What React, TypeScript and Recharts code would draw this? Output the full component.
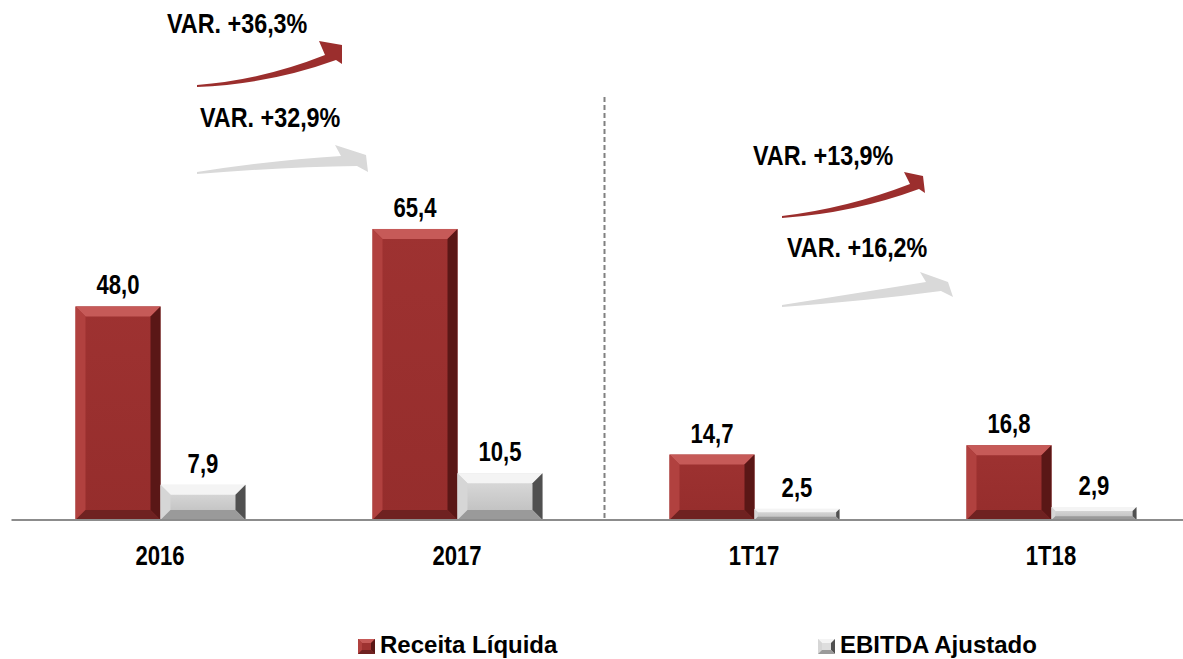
import { BarChart, Bar, XAxis, YAxis, LabelList, Legend } from "recharts";

const categories = ["2016", "2017", "1T17", "1T18"];
const receitaLiquida = [48.0, 65.4, 14.7, 16.8];
const ebitdaAjustado = [7.9, 10.5, 2.5, 2.9];
const seriesNames = ["Receita Líquida", "EBITDA Ajustado"];
const variationLabels = ["VAR. +36,3%", "VAR. +32,9%", "VAR. +13,9%", "VAR. +16,2%"];

const data = categories.map((name, i) => ({
  name,
  receita: receitaLiquida[i],
  ebitda: ebitdaAjustado[i],
}));

const W = 1183;
const H = 659;
const M_LEFT = 11.5;
const M_RIGHT = -16.5;
const PLOT_W = W - M_LEFT - M_RIGHT;
const FONT = "'Liberation Sans', Arial, sans-serif";
const SX = 0.82; // fake Arial Narrow

const RED = { face: "#9e3231", faceDark: "#952d2c", top: "#c65a58", left: "#b1413f", right: "#5a1716", bottom: "#6f2221" };
const GRAY = { face: "#dedede", faceDark: "#bcbcbc", top: "#f4f4f4", left: "#d6d6d6", right: "#505050", bottom: "#9a9a9a" };

const fmt = (v: number) => v.toFixed(1).replace(".", ",");

function NarrowText({ x, y, anchor = "middle", size = 27, sx = SX, children }: any) {
  return (
    <text
      transform={`translate(${x},${y}) scale(${sx},1)`}
      textAnchor={anchor}
      fontFamily={FONT}
      fontWeight="bold"
      fontSize={size}
      fill="#000"
    >
      {children}
    </text>
  );
}

function bevelShape(c: typeof RED, id: string) {
  return (props: any) => {
    const { x, y, width, height } = props;
    if (!height || height <= 0) return <g />;
    const b = Math.min(10, height * 0.3);
    const x2 = x + width;
    const y2 = y + height;
    return (
      <g>
        <defs>
          <linearGradient id={id} x1="0" y1="0" x2="0" y2="1">
            <stop offset="0" stopColor={c.face} />
            <stop offset="1" stopColor={c.faceDark} />
          </linearGradient>
        </defs>
        <rect x={x} y={y} width={width} height={height} fill={`url(#${id})`} />
        <polygon points={`${x},${y} ${x2},${y} ${x2 - b},${y + b} ${x + b},${y + b}`} fill={c.top} />
        <polygon points={`${x},${y} ${x + b},${y + b} ${x + b},${y2 - b} ${x},${y2}`} fill={c.left} />
        <polygon points={`${x2},${y} ${x2},${y2} ${x2 - b},${y2 - b} ${x2 - b},${y + b}`} fill={c.right} />
        <polygon points={`${x},${y2} ${x + b},${y2 - b} ${x2 - b},${y2 - b} ${x2},${y2}`} fill={c.bottom} />
      </g>
    );
  };
}

function CategoryTick(props: any) {
  const { x, y, payload } = props;
  return <NarrowText x={x} y={y + 45}>{payload.value}</NarrowText>;
}

function ValueLabel(props: any) {
  const { x, y, width, value } = props;
  return <NarrowText x={x + width / 2} y={y - 12}>{fmt(value)}</NarrowText>;
}

function LegendMarker({ c }: { c: typeof RED }) {
  return (
    <svg width={17} height={15} style={{ display: "block" }}>
      <rect x={0} y={0} width={17} height={15} fill={c.face} />
      <polygon points="0,0 17,0 13,4 4,4" fill={c.top} />
      <polygon points="0,0 4,4 4,11 0,15" fill={c.left} />
      <polygon points="17,0 17,15 13,11 13,4" fill={c.right} />
      <polygon points="0,15 4,11 13,11 17,15" fill={c.bottom} />
    </svg>
  );
}

function LegendContent() {
  const items = [
    { name: seriesNames[0], c: RED, left: 358 },
    { name: seriesNames[1], c: GRAY, left: 818 },
  ];
  return (
    <div style={{ position: "relative", width: W, height: 30 }}>
      {items.map((it) => (
        <div key={it.name} style={{ position: "absolute", left: it.left, top: 10 }}>
          <LegendMarker c={it.c} />
          <svg width={230} height={30} style={{ position: "absolute", left: 22, top: -10 }}>
            <NarrowText x={0} y={24} anchor="start" size={24} sx={1}>
              {it.name}
            </NarrowText>
          </svg>
        </div>
      ))}
    </div>
  );
}

// curved variation arrows (annotations)
const arrows = [
  { d: "M197,85 Q262,80 325,55 L319,41 L342,45 L342,64 L336,60 Q270,84 197,87 Z", fill: "#9b2e2d" },
  { d: "M197,172 Q275,160 341,156 L335,145 L366,155 L368,172 L357,166 Q285,167 197,174 Z", fill: "#d9d9d9" },
  { d: "M782,216 Q848,208 910,184 L904,172 L923,176 L925,193 L919,189 Q854,213 782,218 Z", fill: "#9b2e2d" },
  { d: "M782,305 Q858,293 926,282 L920,272 L948,282 L953,297 L941,291 Q866,301 782,307 Z", fill: "#d9d9d9" },
];
const varPos = [
  { x: 167, y: 33 },
  { x: 200, y: 127 },
  { x: 753, y: 165 },
  { x: 787, y: 257 },
];

export default function App() {
  const divX = M_LEFT + PLOT_W / 2 - 1;
  return (
    <div style={{ position: "absolute", left: 0, top: 0, width: W, height: H, background: "#fff" }}>
      <BarChart
        width={W}
        height={H}
        data={data}
        margin={{ top: 75, right: M_RIGHT, left: M_LEFT, bottom: 0 }}
        barGap={0}
        barSize={85}
      >
        <XAxis
          dataKey="name"
          height={109}
          tickLine={false}
          tickSize={0}
          tickMargin={0}
          axisLine={{ stroke: "#8c8c8c", strokeWidth: 2 }}
          tick={<CategoryTick />}
        />
        <YAxis hide domain={[0, 100]} />
        <Legend
          verticalAlign="bottom"
          content={<LegendContent />}
          wrapperStyle={{ left: 0, width: W, bottom: 0, margin: 0 }}
        />
        <Bar dataKey="receita" name={seriesNames[0]} fill={RED.face} shape={bevelShape(RED, "gRed")} isAnimationActive={false}>
          <LabelList dataKey="receita" content={<ValueLabel />} />
        </Bar>
        <Bar dataKey="ebitda" name={seriesNames[1]} fill={GRAY.face} shape={bevelShape(GRAY, "gGray")} isAnimationActive={false}>
          <LabelList dataKey="ebitda" content={<ValueLabel />} />
        </Bar>
      </BarChart>
      <svg width={W} height={H} style={{ position: "absolute", left: 0, top: 0, pointerEvents: "none" }}>
        <line x1={divX} x2={divX} y1={97} y2={520} stroke="#808080" strokeWidth={2} strokeDasharray="5 3" />
        {arrows.map((a, i) => (
          <path key={i} d={a.d} fill={a.fill} />
        ))}
        {variationLabels.map((t, i) => (
          <NarrowText key={t} x={varPos[i].x} y={varPos[i].y} anchor="start" sx={0.865}>
            {t}
          </NarrowText>
        ))}
      </svg>
    </div>
  );
}
